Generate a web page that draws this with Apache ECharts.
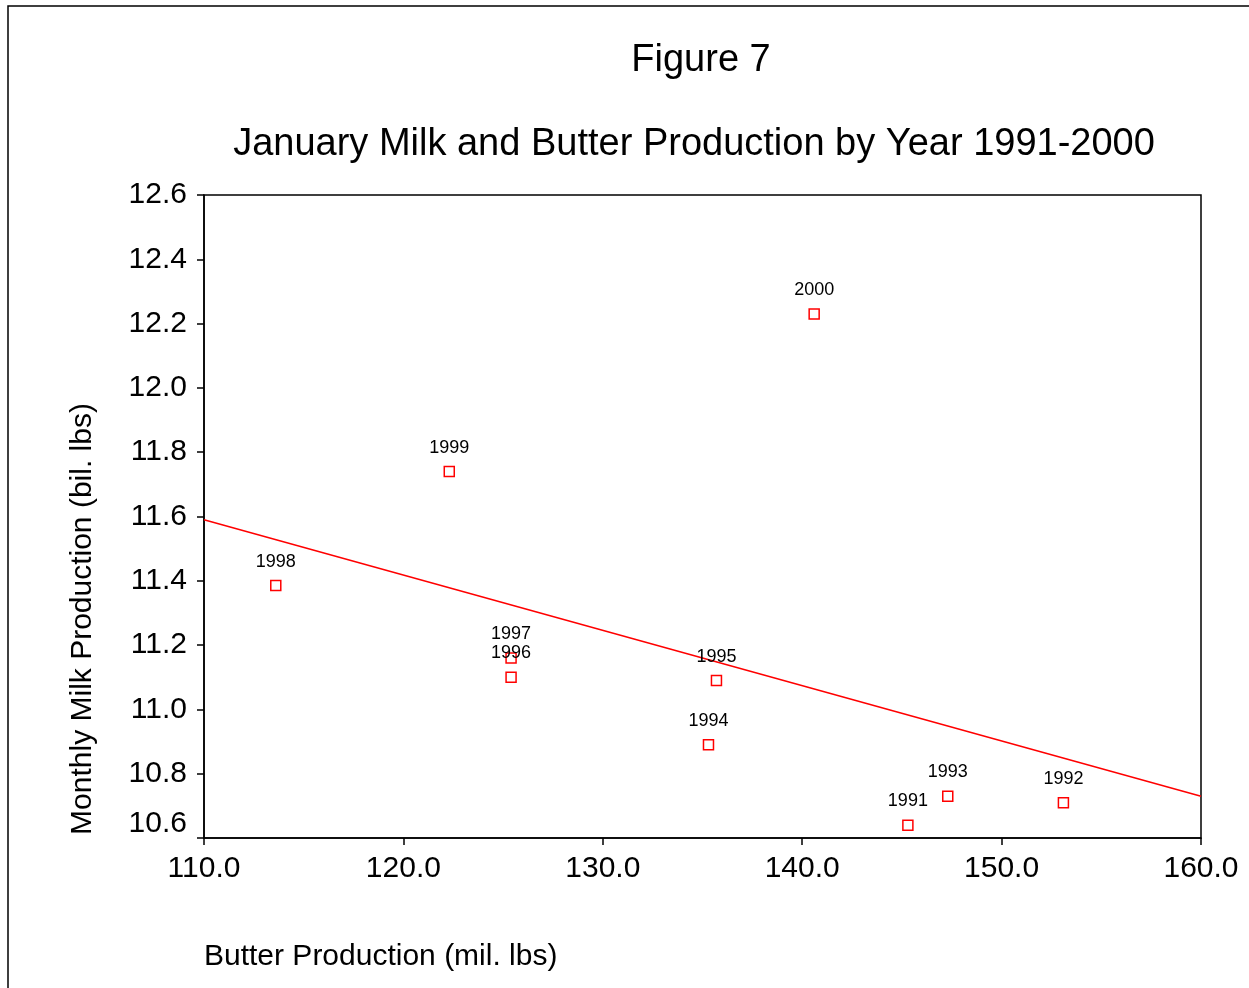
<!DOCTYPE html>
<html>
<head>
<meta charset="utf-8">
<title>Figure 7</title>
<script src="https://cdn.jsdelivr.net/npm/echarts@6/dist/echarts.min.js"></script>
<style>
  html, body { margin: 0; padding: 0; background: #fff; }
  #chart { width: 1249px; height: 988px; }
</style>
</head>
<body>
<div id="chart"></div>
<script>
// January production by year: butter (mil. lbs) vs. milk (bil. lbs)
const years  = ['1991', '1992', '1993', '1994', '1995', '1996', '1997', '1998', '1999', '2000'];
const butter = [145.3, 153.1, 147.3, 135.3, 135.7, 125.4, 125.4, 113.6, 122.3, 140.6];
const milk   = [10.64, 10.71, 10.73, 10.89, 11.09, 11.10, 11.16, 11.385, 11.74, 12.23];

// Fitted trend line, end points at the axis limits
const trendX = [110, 160];
const trendY = [11.59, 10.73];

const xTicks = { min: 110, max: 160, step: 10 };
const yTicks = { min: 10.6, max: 12.6, step: 0.2 };

const FONT = 'Liberation Sans, Arial, Helvetica, sans-serif';
const RED = '#ff0000';

const chart = echarts.init(document.getElementById('chart'), null, { renderer: 'canvas' });

const points = years.map((y, i) => ({ value: [butter[i], milk[i]], name: y }));
const trend = trendX.map((x, i) => [x, trendY[i]]);

chart.setOption({
  backgroundColor: '#ffffff',
  animation: false,
  textStyle: { fontFamily: FONT },
  title: [
    {
      text: 'Figure 7',
      left: 696, top: 37, textAlign: 'center',
      textStyle: { fontFamily: FONT, fontSize: 38, fontWeight: 'normal', color: '#000' }
    },
    {
      text: 'January Milk and Butter Production by Year 1991-2000',
      left: 689, top: 121, textAlign: 'center',
      textStyle: { fontFamily: FONT, fontSize: 38, fontWeight: 'normal', color: '#000' }
    }
  ],
  grid: { left: 204, top: 195, right: 48, bottom: 150, show: true, borderColor: '#000', borderWidth: 1.5, backgroundColor: 'transparent' },
  xAxis: {
    type: 'value',
    min: xTicks.min, max: xTicks.max, interval: xTicks.step,
    axisLine: { show: true, lineStyle: { color: '#000', width: 1.5 } },
    axisTick: { show: true, length: 7, lineStyle: { color: '#000', width: 1.5 } },
    axisLabel: { margin: 16, fontSize: 30, color: '#000', fontFamily: FONT, formatter: v => v.toFixed(1) },
    splitLine: { show: false }
  },
  yAxis: {
    type: 'value',
    min: yTicks.min, max: yTicks.max, interval: yTicks.step,
    axisLine: { show: true, lineStyle: { color: '#000', width: 1.5 } },
    axisTick: { show: true, length: 7, lineStyle: { color: '#000', width: 1.5 } },
    axisLabel: {
      margin: 17, fontSize: 30, color: '#000', fontFamily: FONT,
      formatter: v => Math.abs(v - yTicks.min) < 1e-6 ? '{low|' + v.toFixed(1) + '}' : v.toFixed(1),
      rich: { low: { fontSize: 30, fontFamily: FONT, color: '#000', padding: [0, 0, 28, 0] } }
    },
    splitLine: { show: false }
  },
  graphic: [
    {
      type: 'rect', silent: true,
      shape: { x: 8, y: 6, width: 1400, height: 1200 },
      style: { fill: 'none', stroke: '#000', lineWidth: 1.5 }
    },
    {
      type: 'text', silent: true,
      x: 204, y: 957,
      style: { text: 'Butter Production (mil. lbs)', font: '30px ' + FONT, fill: '#000', textAlign: 'left', textVerticalAlign: 'middle' }
    },
    {
      type: 'text', silent: true,
      x: 83, y: 619, rotation: Math.PI / 2,
      style: { text: 'Monthly Milk Production (bil. lbs)', font: '30px ' + FONT, fill: '#000', textAlign: 'center', textVerticalAlign: 'middle' }
    }
  ],
  series: [
    {
      type: 'line',
      data: trend,
      showSymbol: false,
      silent: true,
      lineStyle: { color: RED, width: 1.5 },
      z: 2
    },
    {
      type: 'scatter',
      data: points,
      symbol: 'rect',
      symbolSize: 10,
      itemStyle: { color: '#ffffff', borderColor: RED, borderWidth: 1.5, opacity: 1 },
      label: {
        show: true, position: 'top', distance: 9,
        formatter: p => p.name,
        fontSize: 18, color: '#000', fontFamily: FONT
      },
      labelLayout: { hideOverlap: false },
      z: 3
    }
  ]
});
</script>
</body>
</html>
